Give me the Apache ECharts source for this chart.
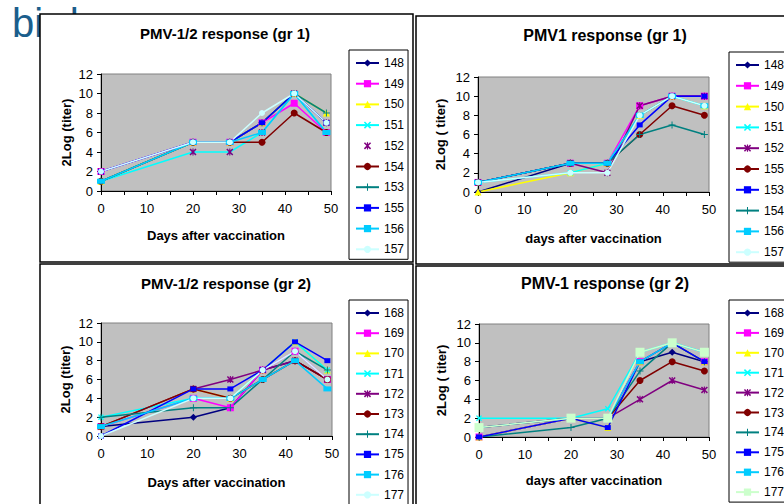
<!DOCTYPE html>
<html>
<head>
<meta charset="utf-8">
<script src="https://cdn.jsdelivr.net/npm/echarts@6/dist/echarts.min.js"></script>
<style>
  html, body { margin: 0; padding: 0; background: #fff; }
  #chart { width: 784px; height: 504px; }
</style>
</head>
<body>
<div id="chart"></div>
<script>
// Sampling days (days after vaccination)
const days = [0, 20, 28, 35, 42, 49];

// Group 1 birds, PMV-1/2 titres
const ids1 = ['148', '149', '150', '151', '152', '154', '153', '155', '156', '157'];
const pmv12Gr1 = [
  [2, 5, 5, 7, 10, 7],
  [2, 5, 5, 7, 9, 6],
  [1, 5, 5, 7, 10, 8],
  [1, 4, 4, 6, 10, 6],
  [2, 4, 4, 6, 10, 7],
  [1, 5, 5, 5, 8, 6],
  [1, 5, 5, 7, 10, 8],
  [2, 5, 5, 7, 10, 7],
  [1, 5, 5, 6, 10, 6],
  [2, 5, 5, 8, 10, 7]
];

// Group 1 birds, PMV1 titres
const ids2 = ['148', '149', '150', '151', '152', '155', '153', '154', '156', '157'];
const pmv1Gr1 = [
  [0, 3, 3, 8, 10, 10],
  [1, 3, 3, 9, 10, 10],
  [0, 2, 3, 8, 10, 9],
  [1, 2, 3, 8, 10, 9],
  [1, 3, 2, 9, 10, 10],
  [1, 3, 3, 6, 9, 8],
  [1, 3, 3, 7, 10, 10],
  [1, 3, 3, 6, 7, 6],
  [1, 3, 3, 8, 10, 9],
  [1, 2, 2, 8, 10, 9]
];

// Group 2 birds
const ids3 = ['168', '169', '170', '171', '172', '173', '174', '175', '176', '177'];
const pmv12Gr2 = [
  [1, 2, 3, 7, 8, 6],
  [1, 4, 3, 7, 9, 6],
  [1, 5, 4, 7, 10, 7],
  [2, 4, 4, 7, 10, 7],
  [1, 5, 6, 7, 8, 6],
  [1, 5, 4, 6, 8, 6],
  [2, 3, 3, 6, 9, 7],
  [0, 5, 5, 7, 10, 8],
  [1, 4, 4, 6, 8, 5],
  [0, 4, 4, 7, 9, 6]
];
const pmv1Gr2 = [
  [0, 2, 2, 8, 9, 8],
  [0, 2, 2, 8, 10, 8],
  [0, 2, 1, 8, 10, 8],
  [2, 2, 3, 9, 10, 9],
  [1, 2, 2, 4, 6, 5],
  [1, 2, 2, 6, 8, 7],
  [0, 1, 2, 7, 10, 8],
  [0, 2, 1, 8, 10, 8],
  [1, 2, 2, 8, 10, 9],
  [1, 2, 2, 9, 10, 9]
];

const titles = ['PMV-1/2 response (gr 1)', 'PMV1 response (gr 1)', 'PMV-1/2 response (gr 2)', 'PMV-1 response (gr 2)'];
const xNames = ['Days after vaccination', 'days after vaccination', 'Days after vaccination', 'days after vaccination'];
const yNames = ['2Log (titer)', '2Log ( titer)', '2Log (titer)', '2Log ( titer)'];

// ---- styling ----
const FONT = '"Liberation Sans", Arial, sans-serif';
const X_MARK = 'path://M0,1.5L1.5,0L5,3.5L8.5,0L10,1.5L6.5,5L10,8.5L8.5,10L5,6.5L1.5,10L0,8.5L3.5,5Z';
const STAR_MARK = X_MARK + 'M4.2,0L5.8,0L5.8,10L4.2,10Z';
const PLUS_MARK = 'path://M4.3,0L5.7,0L5.7,4.3L10,4.3L10,5.7L5.7,5.7L5.7,10L4.3,10L4.3,5.7L0,5.7L0,4.3L4.3,4.3Z';

const NAVY = { color: '#000080', symbol: 'diamond', size: 7 };
const MAGENTA = { color: '#FF00FF', symbol: 'rect', size: 7 };
const YELLOW = { color: '#FFFF00', symbol: 'triangle', size: 7 };
const CYAN = { color: '#00FFFF', symbol: X_MARK, size: 6 };
const PURPLE = { color: '#800080', symbol: STAR_MARK, size: 7 };
const DARKRED = { color: '#800000', symbol: 'circle', size: 7 };
const TEAL = { color: '#008080', symbol: PLUS_MARK, size: 7 };
const BLUE = { color: '#0000FF', symbol: 'rect', size: [6, 5] };
const SKY = { color: '#00CCFF', symbol: 'rect', size: [8, 5] };
const PALECYAN = { color: '#CCFFFF', symbol: 'circle', size: 6 };
const PALEGREEN = { color: '#CCFFCC', symbol: 'rect', size: 9 };

const panels = [
  { frame: [40, 14, 373, 248], grid: [101, 74, 230, 117], title: [225, 33, 15], legend: [349, 50, 6.7], xGap: 38, yGap: 28,
    ids: ids1, values: pmv12Gr1,
    styles: [NAVY, MAGENTA, YELLOW, CYAN, PURPLE, DARKRED, TEAL, BLUE, SKY, PALECYAN], markerOnly: [4] },
  { frame: [416, 16, 380, 248], grid: [478, 77, 231, 115], title: [605, 35, 16], legend: [729, 52, 6.8], xGap: 40, yGap: 31,
    ids: ids2, values: pmv1Gr1,
    styles: [NAVY, MAGENTA, YELLOW, CYAN, PURPLE, DARKRED, BLUE, TEAL, SKY, PALECYAN], markerOnly: [] },
  { frame: [40, 264, 373, 250], grid: [101, 323, 231, 113], title: [226, 283, 15], legend: [349, 300, 6.2], xGap: 40, yGap: 29,
    ids: ids3, values: pmv12Gr2,
    styles: [NAVY, MAGENTA, YELLOW, CYAN, PURPLE, DARKRED, TEAL, BLUE, SKY, PALECYAN], markerOnly: [] },
  { frame: [416, 266, 380, 250], grid: [479, 324, 230, 113], title: [605, 283, 16], legend: [729, 300, 5.9], xGap: 37, yGap: 31,
    ids: ids3, values: pmv1Gr2,
    styles: [NAVY, MAGENTA, YELLOW, CYAN, PURPLE, DARKRED, TEAL, BLUE, SKY, PALEGREEN], markerOnly: [] }
];

const graphics = [{
  type: 'text', x: 12, y: 23, z: -20,
  style: { text: 'bird', font: '40px ' + FONT, fill: '#1b5e8c', align: 'left', verticalAlign: 'middle' }
}];
const grids = [], xAxes = [], yAxes = [], legends = [], series = [];

panels.forEach((p, pi) => {
  graphics.push({
    type: 'rect', z: -10,
    shape: { x: p.frame[0], y: p.frame[1], width: p.frame[2], height: p.frame[3] },
    style: { fill: '#fff', stroke: '#000', lineWidth: 1.5 }
  });
  graphics.push({
    type: 'text', x: p.title[0], y: p.title[1], z: 5,
    style: { text: titles[pi], font: 'bold ' + p.title[2] + 'px ' + FONT, fill: '#000', align: 'center', verticalAlign: 'middle' }
  });

  grids.push({
    left: p.grid[0], top: p.grid[1], width: p.grid[2], height: p.grid[3],
    show: true, backgroundColor: '#C0C0C0', borderColor: '#808080', borderWidth: 1
  });

  xAxes.push({
    gridIndex: pi, type: 'value', min: 0, max: 50, interval: 5,
    name: xNames[pi], nameLocation: 'middle', nameGap: p.xGap,
    nameTextStyle: { fontWeight: 'bold', fontSize: 13, color: '#000', fontFamily: FONT },
    axisLine: { show: true, lineStyle: { color: '#000', width: 1 } },
    axisTick: { show: true, length: 4, lineStyle: { color: '#000' } },
    axisLabel: { margin: 11, fontSize: 13, color: '#000', fontFamily: FONT,
      formatter: v => (v % 10 === 0 ? String(v) : '') },
    splitLine: { show: false }
  });

  yAxes.push({
    gridIndex: pi, type: 'value', min: 0, max: 12, interval: 2,
    name: yNames[pi], nameLocation: 'middle', nameGap: p.yGap,
    nameTextStyle: { fontWeight: 'bold', fontSize: 13, color: '#000', fontFamily: FONT },
    axisLine: { show: true, lineStyle: { color: '#000', width: 1 } },
    axisTick: { show: true, length: 4, lineStyle: { color: '#000' } },
    axisLabel: { margin: 8, fontSize: 13, color: '#000', fontFamily: FONT },
    splitLine: { show: false }
  });

  const names = [];
  p.ids.forEach((id, si) => {
    const name = id + '#' + pi;
    names.push(name);
    const st = p.styles[si];
    const markerOnly = p.markerOnly.indexOf(si) >= 0;
    series.push({
      type: 'line', name: name, xAxisIndex: pi, yAxisIndex: pi,
      data: days.map((d, k) => [d, p.values[si][k]]),
      symbol: st.symbol, symbolSize: st.size, showAllSymbol: true,
      lineStyle: { color: st.color, width: markerOnly ? 0 : 1.5 },
      itemStyle: { color: st.color, borderWidth: 0 },
      emphasis: { disabled: true },
      animation: false
    });
  });

  legends.push({
    data: names, orient: 'vertical',
    left: p.legend[0], top: p.legend[1], height: 400, itemGap: p.legend[2],
    itemWidth: 23, itemHeight: 9,
    padding: [6, 4, 3, 6],
    backgroundColor: '#fff', borderColor: '#000', borderWidth: 1,
    selectedMode: false,
    formatter: n => n.split('#')[0],
    textStyle: { fontSize: 12, color: '#000', fontFamily: FONT, lineHeight: 14 }
  });
});

const chart = echarts.init(document.getElementById('chart'), null, { renderer: 'svg' });
chart.setOption({
  backgroundColor: '#fff',
  animation: false,
  graphic: graphics,
  grid: grids,
  xAxis: xAxes,
  yAxis: yAxes,
  legend: legends,
  series: series
});
</script>
</body>
</html>
